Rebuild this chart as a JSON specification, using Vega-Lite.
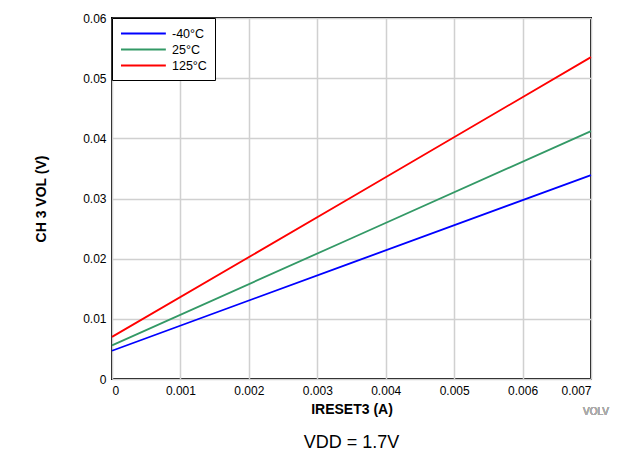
{
  "$schema": "https://vega.github.io/schema/vega-lite/v6.json",
  "autosize": "none",
  "width": 479,
  "height": 361,
  "padding": {"left": 112, "top": 18, "right": 28, "bottom": 76},
  "background": "white",
  "config": {
    "font": "Liberation Sans",
    "view": {"stroke": "black", "strokeWidth": 2},
    "axis": {
      "labelFont": "Liberation Sans",
      "labelFontSize": 12,
      "labelColor": "black",
      "titleFont": "Liberation Sans",
      "titleFontSize": 14,
      "titleFontWeight": "bold",
      "titleColor": "black",
      "gridColor": "#d0d0d0",
      "gridWidth": 1.5,
      "ticks": false,
      "domain": false,
      "labelPadding": 6
    }
  },
  "title": {
    "text": "VDD = 1.7V",
    "orient": "bottom",
    "anchor": "middle",
    "fontSize": 18,
    "fontWeight": "normal",
    "color": "black",
    "offset": 17
  },
  "data": {
    "values": [
      {"series": "-40°C", "current": 0, "vol": 0.0047},
      {"series": "-40°C", "current": 0.0035, "vol": 0.0193},
      {"series": "-40°C", "current": 0.007, "vol": 0.0339},
      {"series": "25°C", "current": 0, "vol": 0.0056},
      {"series": "25°C", "current": 0.0035, "vol": 0.0234},
      {"series": "25°C", "current": 0.007, "vol": 0.0412},
      {"series": "125°C", "current": 0, "vol": 0.0070},
      {"series": "125°C", "current": 0.0035, "vol": 0.0302},
      {"series": "125°C", "current": 0.007, "vol": 0.0535}
    ]
  },
  "layer": [
    {
      "mark": {"type": "line", "strokeWidth": 1.8},
      "encoding": {
        "x": {
          "field": "current",
          "type": "quantitative",
          "scale": {"domain": [0, 0.007], "nice": false},
          "axis": {"values": [0, 0.001, 0.002, 0.003, 0.004, 0.005, 0.006, 0.007], "format": "~g", "title": "IRESET3 (A)", "titlePadding": 6}
        },
        "y": {
          "field": "vol",
          "type": "quantitative",
          "scale": {"domain": [0, 0.06], "nice": false},
          "axis": {"values": [0, 0.01, 0.02, 0.03, 0.04, 0.05, 0.06], "format": "~g", "title": "CH 3 VOL (V)", "titlePadding": 34}
        },
        "color": {
          "field": "series",
          "type": "nominal",
          "sort": ["-40°C", "25°C", "125°C"],
          "scale": {"domain": ["-40°C", "25°C", "125°C"], "range": ["#0000ff", "#339966", "#ff0000"]},
          "legend": {
            "title": null,
            "orient": "top-left",
            "offset": 0,
            "strokeColor": "black",
            "fillColor": "white",
            "padding": 8,
            "symbolType": "M-1,0H5.9",
            "symbolSize": 169,
            "symbolStrokeWidth": 1.8,
            "labelFontSize": 12.5,
            "labelColor": "black",
            "rowPadding": 2,
            "labelOffset": 37
          }
        }
      }
    },
    {
      "mark": {"type": "text", "text": "VOLV", "fontSize": 10, "color": "#aaaaaa", "align": "right", "baseline": "middle", "clip": false, "dx": 18},
      "encoding": {
        "x": {"datum": 0.007, "type": "quantitative"},
        "y": {"datum": -0.0055, "type": "quantitative"}
      }
    }
  ]
}
